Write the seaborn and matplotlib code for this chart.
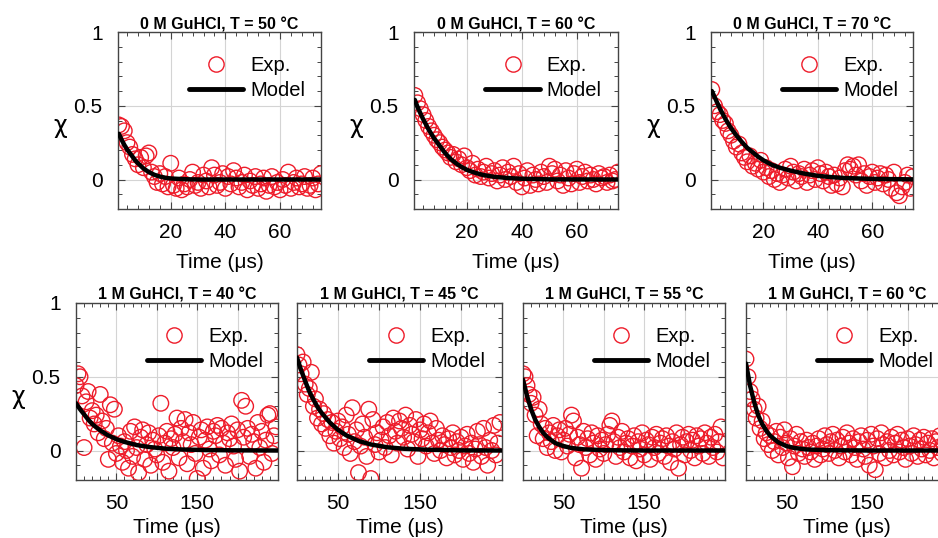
import numpy as np
import pandas as pd
import matplotlib
matplotlib.use("Agg")
import matplotlib.pyplot as plt
from matplotlib.ticker import MultipleLocator
import seaborn as sns

# ---------------- data ----------------
titles_top = ["0 M GuHCl, T = 50 \u00b0C", "0 M GuHCl, T = 60 \u00b0C", "0 M GuHCl, T = 70 \u00b0C"]
titles_bot = ["1 M GuHCl, T = 40 \u00b0C", "1 M GuHCl, T = 45 \u00b0C",
              "1 M GuHCl, T = 55 \u00b0C", "1 M GuHCl, T = 60 \u00b0C"]

t_top = np.arange(1, 76, 1.0)          # sampling times (us), 0 M runs
t_bot = np.arange(0, 250, 2.5)         # sampling times (us), 1 M runs

exp_50 = [0.37, 0.36, 0.33, 0.25, 0.22, 0.17, 0.14, 0.10, 0.15, 0.08, 0.16, 0.18, 0.05, 0.02, -0.02,
          0.04, -0.03, 0.02, -0.05, 0.11, -0.04, -0.06, 0.01, -0.07, -0.03, -0.05, 0.00, 0.05, -0.04, -0.02,
          -0.06, 0.03, -0.01, -0.05, 0.08, 0.03, -0.04, -0.02, 0.04, -0.06, 0.02, -0.03, 0.06, 0.01, -0.05,
          -0.02, 0.03, -0.07, -0.01, -0.04, 0.02, -0.06, -0.03, 0.01, -0.08, -0.04, 0.02, -0.05, -0.02, -0.07,
          0.00, -0.04, 0.05, -0.06, -0.02, 0.01, -0.05, -0.03, 0.02, -0.06, -0.04, 0.01, -0.07, -0.03, 0.04]
exp_60 = [0.57, 0.52, 0.48, 0.44, 0.40, 0.36, 0.33, 0.30, 0.27, 0.25, 0.22, 0.20, 0.18, 0.15, 0.17,
          0.12, 0.14, 0.10, 0.16, 0.08, 0.06, 0.11, 0.03, 0.07, 0.02, 0.05, 0.09, 0.01, 0.04, 0.06,
          -0.01, 0.03, 0.08, 0.00, 0.05, 0.02, 0.09, -0.02, 0.04, -0.05, 0.01, 0.06, -0.04, 0.03, 0.00,
          -0.03, 0.05, 0.02, -0.02, 0.09, 0.04, 0.07, -0.01, 0.03, -0.04, 0.06, 0.01, -0.03, 0.04, 0.07,
          -0.02, 0.02, 0.05, -0.01, 0.03, 0.00, -0.03, 0.04, 0.01, 0.02, -0.02, 0.03, -0.01, 0.00, 0.05]
exp_70 = [0.61, 0.50, 0.46, 0.44, 0.40, 0.38, 0.33, 0.30, 0.26, 0.22, 0.24, 0.18, 0.15, 0.12, 0.16,
          0.09, 0.11, 0.07, 0.13, 0.05, 0.08, 0.02, 0.06, 0.00, 0.04, -0.02, 0.03, 0.07, 0.01, 0.09,
          0.05, -0.01, 0.04, 0.02, 0.07, -0.02, 0.03, 0.06, 0.00, 0.08, 0.04, -0.01, 0.05, 0.02, -0.04,
          0.03, -0.03, 0.01, -0.05, 0.06, 0.10, 0.07, 0.09, 0.03, 0.10, -0.01, 0.04, -0.04, 0.02, 0.05,
          -0.02, 0.01, 0.04, -0.03, 0.03, 0.00, -0.06, 0.05, -0.09, -0.11, -0.05, -0.02, 0.03, -0.06, 0.02]

exp_40 = [0.44, 0.52, 0.50, 0.37, 0.02, 0.33, 0.40, 0.22, 0.27, 0.18, 0.24, 0.12, 0.38, 0.20, 0.08,
          0.15, -0.06, 0.31, 0.05, 0.28, -0.02, 0.10, 0.03, -0.08, 0.06, 0.00, -0.12, 0.13, -0.04, 0.16,
          0.02, -0.15, 0.09, 0.14, -0.06, 0.04, 0.12, -0.10, 0.07, 0.01, -0.03, 0.10, 0.32, -0.08, 0.05,
          0.13, -0.14, 0.08, 0.02, 0.11, 0.22, -0.05, 0.15, 0.06, 0.21, -0.09, 0.12, 0.04, 0.19, -0.02,
          -0.19, 0.09, 0.14, -0.12, 0.07, 0.16, 0.01, -0.07, 0.13, 0.10, 0.17, -0.03, 0.15, 0.05, -0.10,
          0.12, 0.08, 0.18, 0.03, -0.06, 0.14, -0.14, 0.34, 0.09, 0.30, 0.15, -0.04, 0.11, 0.06, -0.12,
          0.19, 0.02, 0.13, -0.08, 0.07, 0.24, 0.25, -0.02, 0.10, 0.16]
exp_45 = [0.65, 0.58, 0.52, 0.60, 0.45, 0.38, 0.42, 0.53, 0.30, 0.35, 0.22, 0.28, 0.18, 0.25, 0.15,
          0.21, 0.10, 0.19, 0.05, 0.13, 0.20, 0.08, 0.16, 0.02, 0.24, 0.11, -0.02, 0.29, 0.06, 0.14,
          -0.15, 0.03, 0.18, 0.09, -0.04, 0.28, -0.19, 0.21, 0.04, 0.12, -0.01, 0.07, 0.16, 0.02, 0.19,
          0.10, -0.03, 0.22, 0.13, 0.05, 0.20, 0.15, 0.09, 0.24, 0.01, 0.17, 0.11, 0.06, 0.21, -0.04,
          0.14, 0.08, 0.18, 0.03, 0.12, 0.20, 0.05, -0.02, 0.15, 0.07, 0.00, 0.10, 0.04, -0.05, 0.08,
          0.02, 0.12, -0.03, 0.06, 0.00, 0.09, -0.06, 0.03, 0.11, -0.02, 0.05, -0.08, 0.01, 0.13, 0.04,
          -0.04, 0.15, 0.02, -0.10, 0.07, 0.00, 0.17, -0.03, 0.05, 0.19]
exp_55 = [0.52, 0.50, 0.44, 0.38, 0.32, 0.36, 0.24, 0.10, 0.28, 0.18, 0.08, 0.15, 0.02, 0.12, 0.06,
          0.17, 0.00, 0.10, 0.14, -0.01, 0.07, 0.15, 0.03, 0.11, 0.24, 0.20, -0.05, 0.09, 0.04, -0.12,
          0.13, 0.02, 0.08, -0.03, 0.12, 0.05, -0.06, 0.10, 0.01, 0.07, -0.02, 0.04, 0.11, 0.17, 0.20,
          0.06, -0.04, 0.09, 0.02, 0.13, -0.01, 0.05, 0.08, -0.05, 0.03, 0.10, -0.07, 0.06, 0.01, 0.12,
          -0.03, 0.07, 0.04, -0.06, 0.09, 0.02, 0.11, -0.02, 0.05, 0.08, -0.04, 0.10, 0.03, -0.08, 0.06,
          0.01, 0.12, -0.12, 0.04, 0.09, -0.03, 0.06, 0.11, 0.00, 0.07, -0.05, 0.10, 0.03, 0.08, -0.02,
          0.12, 0.05, -0.04, 0.09, 0.02, 0.11, -0.01, 0.06, 0.16, -0.05]
exp_60b = [0.62, 0.50, 0.40, 0.35, 0.28, 0.22, 0.30, 0.15, 0.20, 0.08, 0.12, 0.04, 0.10, 0.00, 0.06,
           0.13, -0.03, 0.09, 0.02, 0.14, 0.05, -0.05, 0.08, -0.11, 0.03, 0.11, -0.02, 0.06, 0.01, -0.04,
           0.07, 0.02, -0.01, 0.05, -0.06, 0.03, 0.08, -0.03, 0.01, 0.10, 0.04, -0.02, 0.06, 0.11, 0.00,
           0.07, -0.05, 0.03, 0.09, -0.01, 0.12, 0.05, -0.03, 0.08, 0.02, -0.06, 0.06, 0.10, 0.01, -0.04,
           0.07, -0.10, 0.11, 0.03, -0.13, 0.08, -0.02, 0.12, 0.04, -0.05, 0.06, 0.00, 0.09, -0.03, 0.05,
           0.11, -0.01, 0.07, 0.02, -0.06, 0.08, 0.03, -0.02, 0.10, 0.04, -0.04, 0.07, 0.01, 0.09, -0.03,
           0.05, 0.00, 0.08, -0.05, 0.06, 0.02, 0.10, -0.02, 0.04, 0.07]

# model curves read at selected times
mt_50 = [1, 2, 3, 4, 5, 6, 7, 8, 10, 12, 14, 16, 18, 20, 25, 30, 75]
mv_50 = [0.31, 0.27, 0.235, 0.205, 0.18, 0.155, 0.13, 0.11, 0.075, 0.05, 0.032, 0.02, 0.012, 0.007, 0.002, 0.0, 0.0]
mt_60 = [1, 2, 3, 4, 5, 6, 7, 8, 10, 12, 14, 16, 18, 20, 23, 26, 30, 35, 40, 50, 75]
mv_60 = [0.54, 0.49, 0.45, 0.41, 0.375, 0.34, 0.31, 0.28, 0.23, 0.18, 0.14, 0.11, 0.085, 0.065, 0.045,
         0.03, 0.018, 0.01, 0.005, 0.001, 0.0]
mt_70 = [1, 2, 3, 4, 5, 6, 8, 10, 12, 14, 16, 18, 20, 23, 26, 30, 35, 40, 45, 50, 60, 75]
mv_70 = [0.60, 0.56, 0.52, 0.48, 0.445, 0.41, 0.35, 0.30, 0.255, 0.215, 0.185, 0.155, 0.13, 0.10, 0.08,
         0.06, 0.04, 0.025, 0.016, 0.01, 0.004, 0.001]
mt_40 = [0, 5, 10, 15, 20, 25, 30, 40, 50, 60, 75, 90, 110, 130, 160, 200, 250]
mv_40 = [0.32, 0.28, 0.245, 0.21, 0.18, 0.157, 0.136, 0.102, 0.077, 0.058, 0.037, 0.024, 0.013, 0.007, 0.003, 0.001, 0.0]
mt_45 = [0, 5, 10, 15, 20, 25, 30, 40, 50, 60, 75, 90, 110, 130, 160, 200, 250]
mv_45 = [0.63, 0.545, 0.47, 0.40, 0.345, 0.295, 0.255, 0.19, 0.14, 0.103, 0.065, 0.041, 0.022, 0.012, 0.005, 0.001, 0.0]
mt_55 = [0, 5, 10, 15, 20, 25, 30, 40, 50, 60, 75, 100, 150, 250]
mv_55 = [0.48, 0.37, 0.28, 0.21, 0.16, 0.12, 0.09, 0.05, 0.03, 0.017, 0.008, 0.002, 0.0, 0.0]
mt_60b = [0, 5, 10, 15, 20, 25, 30, 40, 50, 60, 75, 100, 150, 250]
mv_60b = [0.59, 0.44, 0.33, 0.24, 0.18, 0.135, 0.10, 0.055, 0.03, 0.017, 0.007, 0.002, 0.0, 0.0]

top_exp = [exp_50, exp_60, exp_70]
top_mod = [(mt_50, mv_50), (mt_60, mv_60), (mt_70, mv_70)]
bot_exp = [exp_40, exp_45, exp_55, exp_60b]
bot_mod = [(mt_40, mv_40), (mt_45, mv_45), (mt_55, mv_55), (mt_60b, mv_60b)]

# ---------------- style ----------------
sns.set_theme(style="ticks")
plt.rcParams["font.family"] = ["Liberation Sans", "DejaVu Sans"]
plt.rcParams["text.color"] = "black"
plt.rcParams["axes.labelcolor"] = "black"
plt.rcParams["xtick.labelcolor"] = "black"
plt.rcParams["ytick.labelcolor"] = "black"
plt.rcParams["axes.edgecolor"] = "#444444"
plt.rcParams["axes.linewidth"] = 1.0

RED = "#EE1C2A"
W, H = 938, 538
fig = plt.figure(figsize=(W / 100, H / 100), dpi=100)


def make_ax(x0, y0, x1, y1):
    return fig.add_axes([x0 / W, 1 - y1 / H, (x1 - x0) / W, (y1 - y0) / H])


def style(ax, title, top, show_y):
    ax.set_ylim(-0.2, 1.0)
    if top:
        ax.set_xlim(0.7, 75)
        ax.set_xticks([20, 40, 60])
        ax.set_xticklabels(["20", "40", "60"])
        ax.xaxis.set_minor_locator(MultipleLocator(4))
    else:
        ax.set_xlim(0, 250)
        ax.set_xticks([50, 100, 150, 200])
        ax.set_xticklabels(["50", "", "150", ""])
        ax.xaxis.set_minor_locator(MultipleLocator(10))
    ax.set_yticks([0, 0.5, 1])
    ax.yaxis.set_minor_locator(MultipleLocator(0.1))
    ax.grid(True, which="major", color="#d4d4d4", lw=0.8)
    ax.set_axisbelow(True)
    ax.tick_params(which="both", direction="in", top=True, right=True, colors="#444444",
                   labelcolor="black", labelsize=15)
    ax.tick_params(which="major", length=5, width=0.8)
    ax.tick_params(which="minor", length=3, width=0.7)
    ax.tick_params(axis="x", pad=10)
    ax.tick_params(axis="y", pad=11)
    if show_y:
        ax.set_yticklabels(["0", "0.5", "1"])
        ax.set_ylabel("\u03c7", rotation=0, fontsize=17, family=["DejaVu Sans"])
        ax.yaxis.set_label_coords(-58 / 203, 0.40)
    else:
        ax.set_yticklabels([])
        ax.set_ylabel("")
    ax.set_xlabel("Time (\u03bcs)", fontsize=15, labelpad=8 if top else 4)
    ax.set_title(title, fontsize=11.5, fontweight="bold", pad=2)


def draw(ax, t, y, mt, mv):
    df = pd.DataFrame({"t": t, "y": y})
    sns.scatterplot(data=df, x="t", y="y", ax=ax, marker="o", s=125,
                    facecolor="none", edgecolor=RED, linewidth=1.0, zorder=2)
    dm = pd.DataFrame({"t": mt, "v": mv})
    sns.lineplot(data=dm, x="t", y="v", ax=ax, color="black", lw=3.2, zorder=3)
    h_exp = plt.Line2D([], [], ls="none", marker="o", ms=11, mfc="none", mec=RED, mew=1.0)
    h_mod = plt.Line2D([], [], color="black", lw=3.5)
    ax.legend([h_exp, h_mod], ["Exp.", "Model"], loc="upper left",
              bbox_to_anchor=(0.35, 0.865), frameon=False, fontsize=14.5,
              handlelength=2.7, handletextpad=0.35, labelspacing=0.32, borderpad=0,
              borderaxespad=0)


top_pos = [(118, 321), (414, 618), (711, 913)]
for i, (x0, x1) in enumerate(top_pos):
    ax = make_ax(x0, 32, x1, 209)
    draw(ax, t_top, top_exp[i], *top_mod[i])
    style(ax, titles_top[i], True, True)

bot_pos = [(76, 278), (297, 502), (523, 725), (746, 948)]
for i, (x0, x1) in enumerate(bot_pos):
    ax = make_ax(x0, 303, x1, 480)
    draw(ax, t_bot, bot_exp[i], *bot_mod[i])
    style(ax, titles_bot[i], False, i == 0)

fig.savefig("out.png", dpi=100)
